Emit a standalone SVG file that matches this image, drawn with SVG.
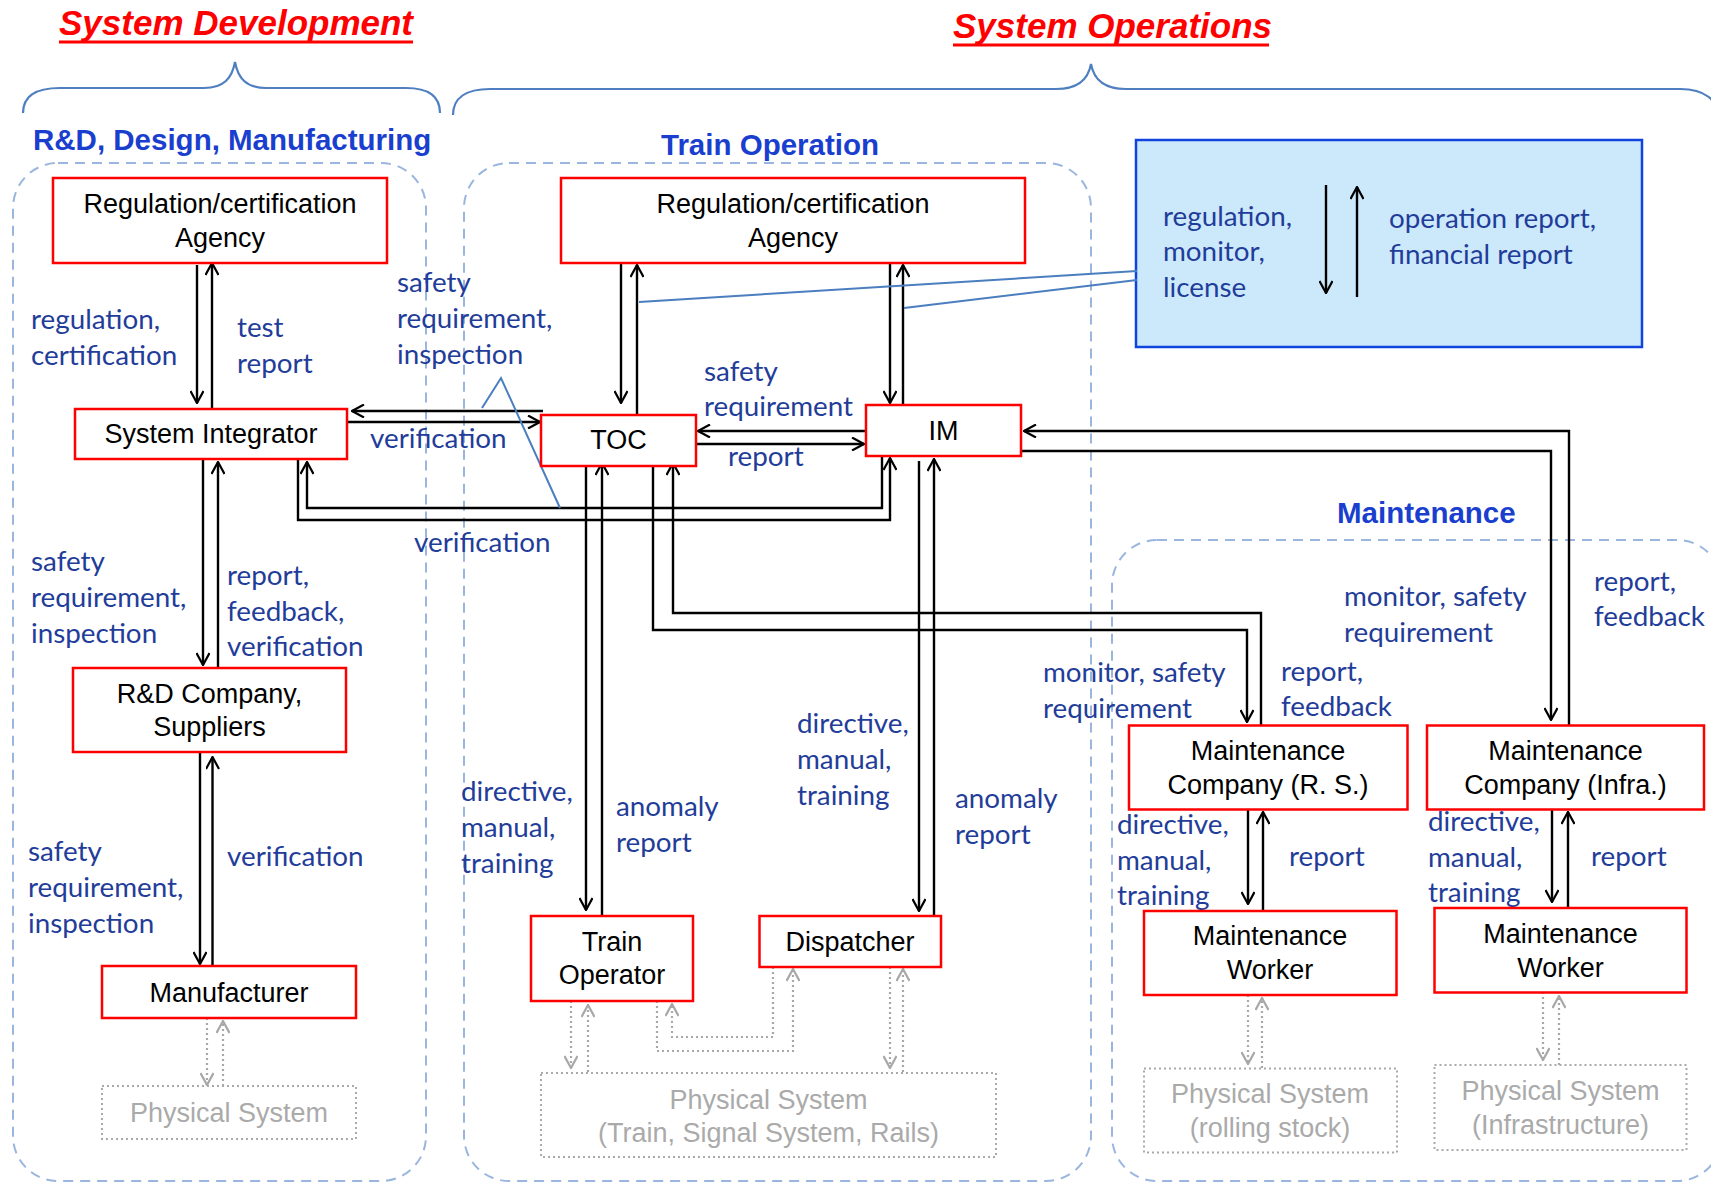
<svg xmlns="http://www.w3.org/2000/svg" width="1711" height="1182" viewBox="0 0 1711 1182">
<style>
.bg{fill:#ffffff}
.title{font-family:"Liberation Sans",Arial,sans-serif;font-weight:bold;font-style:italic;font-size:35px;fill:#ff0000}
.uline{stroke:#ff0000;stroke-width:3}
.sect{font-family:"Liberation Sans",Arial,sans-serif;font-weight:bold;font-size:29.5px;fill:#1a3fcf}
.brace{fill:none;stroke:#4f7fc0;stroke-width:2.2}
.cont{fill:none;stroke:#9ab6de;stroke-width:2;stroke-dasharray:10 7}
.node rect{fill:#ffffff;stroke:#ff0000;stroke-width:2.5}
.node text{font-family:"Liberation Sans",Arial,sans-serif;font-size:27px;fill:#000000;text-anchor:middle}
.phys rect{fill:#ffffff;stroke:#aaaaaa;stroke-width:2;stroke-dasharray:2 3}
.phys text{font-family:"Liberation Sans",Arial,sans-serif;font-size:27px;fill:#aaaaaa;text-anchor:middle}
.lbl{font-family:Lato,"Open Sans",sans-serif;font-size:27.8px;fill:#1f3d99}
.conn{fill:none;stroke:#000000;stroke-width:2.4}
.dot{fill:none;stroke:#a8a8a8;stroke-width:2.2;stroke-dasharray:2 3}
.ann{fill:none;stroke:#4a7ebf;stroke-width:2}
.bluebox{fill:#cce9fc;stroke:#1144dd;stroke-width:2.5}
</style>
<defs>
<marker id="arr" viewBox="0 0 14 14" refX="13" refY="7" markerWidth="14" markerHeight="14" markerUnits="userSpaceOnUse" orient="auto">
<path d="M1,0.5 L13,7 L1,13.5" fill="none" stroke="#000000" stroke-width="2.2"/>
</marker>
<marker id="garr" viewBox="0 0 14 14" refX="13" refY="7" markerWidth="14" markerHeight="14" markerUnits="userSpaceOnUse" orient="auto">
<path d="M1,0.5 L13,7 L1,13.5" fill="none" stroke="#a8a8a8" stroke-width="2.2"/>
</marker>
</defs>
<rect class="bg" x="0" y="0" width="1711" height="1182"/>

<g id="titles">
<text class="title" x="59" y="35">System Development</text>
<line class="uline" x1="59" y1="42" x2="413" y2="42"/>
<text class="title" x="953" y="38">System Operations</text>
<line class="uline" x1="953" y1="45" x2="1269" y2="45"/>
<path class="brace" d="M23,113 C23,96 36,88 60,88 L204,88 C224,88 232,78 235,62 C238,78 246,88 266,88 L406,88 C428,88 440,96 440,113"/>
<path class="brace" d="M453,115 C453,98 466,89 490,89 L1056,89 C1078,89 1088,80 1091,64 C1094,80 1104,89 1126,89 L1680,89 C1705,89 1718,100 1718,118"/>
<text class="sect" x="33" y="150">R&amp;D, Design, Manufacturing</text>
<text class="sect" x="661" y="155">Train Operation</text>
<text class="sect" x="1337" y="523">Maintenance</text>
</g>

<g id="containers">
<rect class="cont" x="13" y="163" width="413" height="1018" rx="45"/>
<rect class="cont" x="464" y="163" width="627" height="1018" rx="45"/>
<rect class="cont" x="1112" y="540" width="610" height="641" rx="45"/>
</g>

<g id="oversight">
<rect class="bluebox" x="1136" y="140" width="506" height="207"/>
<text class="lbl" x="1163" y="226">regulation,</text>
<text class="lbl" x="1163" y="261">monitor,</text>
<text class="lbl" x="1163" y="297">license</text>
<text class="lbl" x="1389" y="228">operation report,</text>
<text class="lbl" x="1389" y="264">financial report</text>
</g>

<g id="connectors">
<path class="conn" d="M197,265 V403" marker-end="url(#arr)"/>
<path class="conn" d="M212,408 V263" marker-end="url(#arr)"/>
<path class="conn" d="M543,411 H352" marker-end="url(#arr)"/>
<path class="conn" d="M347,422 H540" marker-end="url(#arr)"/>
<path class="conn" d="M203,460 V665" marker-end="url(#arr)"/>
<path class="conn" d="M218,668 V462" marker-end="url(#arr)"/>
<path class="conn" d="M200,753 V964" marker-end="url(#arr)"/>
<path class="conn" d="M212.5,967 V757" marker-end="url(#arr)"/>
<path class="dot" d="M207,1018 V1085" marker-end="url(#garr)"/>
<path class="dot" d="M223,1086 V1021" marker-end="url(#garr)"/>
<path class="conn" d="M298,459 V520 H890 V458" marker-end="url(#arr)"/>
<path class="conn" d="M882,456 V508 H307 V462" marker-end="url(#arr)"/>
<path class="conn" d="M621,263 V403" marker-end="url(#arr)"/>
<path class="conn" d="M637,414 V265" marker-end="url(#arr)"/>
<path class="conn" d="M890,264 V403" marker-end="url(#arr)"/>
<path class="conn" d="M903,405 V265" marker-end="url(#arr)"/>
<path class="conn" d="M866,431 H698" marker-end="url(#arr)"/>
<path class="conn" d="M696,444 H864" marker-end="url(#arr)"/>
<path class="conn" d="M586,463 V910" marker-end="url(#arr)"/>
<path class="conn" d="M602,916 V463" marker-end="url(#arr)"/>
<path class="conn" d="M919,461 V911" marker-end="url(#arr)"/>
<path class="conn" d="M934,916 V459" marker-end="url(#arr)"/>
<path class="conn" d="M653,463 V630 H1247 V722" marker-end="url(#arr)"/>
<path class="conn" d="M1261,725 V613 H673 V463" marker-end="url(#arr)"/>
<path class="conn" d="M1021,451 H1551 V720" marker-end="url(#arr)"/>
<path class="conn" d="M1569,725 V431 H1024" marker-end="url(#arr)"/>
<path class="conn" d="M1248,809 V904" marker-end="url(#arr)"/>
<path class="conn" d="M1263,911 V812" marker-end="url(#arr)"/>
<path class="conn" d="M1552,809 V902" marker-end="url(#arr)"/>
<path class="conn" d="M1568,908 V812" marker-end="url(#arr)"/>
<path class="dot" d="M1248,995 V1064" marker-end="url(#garr)"/>
<path class="dot" d="M1262,1068 V998" marker-end="url(#garr)"/>
<path class="dot" d="M1543,992 V1060" marker-end="url(#garr)"/>
<path class="dot" d="M1559,1065 V996" marker-end="url(#garr)"/>
<path class="dot" d="M571,1001 V1068" marker-end="url(#garr)"/>
<path class="dot" d="M588,1072 V1005" marker-end="url(#garr)"/>
<path class="dot" d="M657,1001 V1051 H793 V969" marker-end="url(#garr)"/>
<path class="dot" d="M773,967 V1037 H672 V1004" marker-end="url(#garr)"/>
<path class="dot" d="M890,967 V1068" marker-end="url(#garr)"/>
<path class="dot" d="M903,1072 V969" marker-end="url(#garr)"/>
<path class="conn" d="M1326,185 V293" marker-end="url(#arr)"/>
<path class="conn" d="M1357,297 V187" marker-end="url(#arr)"/>
<path class="ann" d="M482,408 L501,378 L560,508"/>
<path class="ann" d="M639,302 L1137,271"/>
<path class="ann" d="M904,308 L1137,280"/>
</g>

<g id="labels">
<text class="lbl" x="31" y="329">regulation,</text>
<text class="lbl" x="31" y="365">certification</text>
<text class="lbl" x="237" y="337">test</text>
<text class="lbl" x="237" y="373">report</text>
<text class="lbl" x="397" y="292">safety</text>
<text class="lbl" x="397" y="328">requirement,</text>
<text class="lbl" x="397" y="364">inspection</text>
<text class="lbl" x="370" y="448">verification</text>
<text class="lbl" x="31" y="571">safety</text>
<text class="lbl" x="31" y="607">requirement,</text>
<text class="lbl" x="31" y="643">inspection</text>
<text class="lbl" x="227" y="585">report,</text>
<text class="lbl" x="227" y="621">feedback,</text>
<text class="lbl" x="227" y="656">verification</text>
<text class="lbl" x="28" y="861">safety</text>
<text class="lbl" x="28" y="897">requirement,</text>
<text class="lbl" x="28" y="933">inspection</text>
<text class="lbl" x="227" y="866">verification</text>
<text class="lbl" x="414" y="552">verification</text>
<text class="lbl" x="704" y="381">safety</text>
<text class="lbl" x="704" y="416">requirement</text>
<text class="lbl" x="728" y="466">report</text>
<text class="lbl" x="461" y="801">directive,</text>
<text class="lbl" x="461" y="837">manual,</text>
<text class="lbl" x="461" y="873">training</text>
<text class="lbl" x="616" y="816">anomaly</text>
<text class="lbl" x="616" y="852">report</text>
<text class="lbl" x="797" y="733">directive,</text>
<text class="lbl" x="797" y="769">manual,</text>
<text class="lbl" x="797" y="805">training</text>
<text class="lbl" x="955" y="808">anomaly</text>
<text class="lbl" x="955" y="844">report</text>
<text class="lbl" x="1043" y="682">monitor, safety</text>
<text class="lbl" x="1043" y="718">requirement</text>
<text class="lbl" x="1281" y="681">report,</text>
<text class="lbl" x="1281" y="716">feedback</text>
<text class="lbl" x="1344" y="606">monitor, safety</text>
<text class="lbl" x="1344" y="642">requirement</text>
<text class="lbl" x="1594" y="591">report,</text>
<text class="lbl" x="1594" y="626">feedback</text>
<text class="lbl" x="1117" y="834">directive,</text>
<text class="lbl" x="1117" y="870">manual,</text>
<text class="lbl" x="1117" y="905">training</text>
<text class="lbl" x="1289" y="866">report</text>
<text class="lbl" x="1428" y="831">directive,</text>
<text class="lbl" x="1428" y="867">manual,</text>
<text class="lbl" x="1428" y="902">training</text>
<text class="lbl" x="1591" y="866">report</text>
</g>

<g id="node-agency-dev" class="node">
<rect x="53" y="178" width="334" height="85"/>
<text x="220" y="213">Regulation/certification</text>
<text x="220" y="247">Agency</text>
</g>
<g id="node-system-integrator" class="node">
<rect x="75" y="409" width="272" height="50"/>
<text x="211" y="443">System Integrator</text>
</g>
<g id="node-rd-company" class="node">
<rect x="73" y="668" width="273" height="84"/>
<text x="209.5" y="703">R&amp;D Company,</text>
<text x="209.5" y="736">Suppliers</text>
</g>
<g id="node-manufacturer" class="node">
<rect x="102" y="966" width="254" height="52"/>
<text x="229" y="1002">Manufacturer</text>
</g>
<g id="node-physical-dev" class="phys">
<rect x="102" y="1086" width="254" height="53"/>
<text x="229" y="1122">Physical System</text>
</g>
<g id="node-agency-ops" class="node">
<rect x="561" y="178" width="464" height="85"/>
<text x="793" y="213">Regulation/certification</text>
<text x="793" y="247">Agency</text>
</g>
<g id="node-toc" class="node">
<rect x="541" y="415" width="155" height="51"/>
<text x="618.5" y="449">TOC</text>
</g>
<g id="node-im" class="node">
<rect x="866" y="405" width="155" height="51"/>
<text x="943.5" y="440">IM</text>
</g>
<g id="node-train-operator" class="node">
<rect x="531" y="916" width="162" height="85"/>
<text x="612" y="951">Train</text>
<text x="612" y="984">Operator</text>
</g>
<g id="node-dispatcher" class="node">
<rect x="759.5" y="916" width="181.5" height="51"/>
<text x="850" y="951">Dispatcher</text>
</g>
<g id="node-physical-ops" class="phys">
<rect x="541" y="1073" width="455" height="84"/>
<text x="768.5" y="1109">Physical System</text>
<text x="768.5" y="1142">(Train, Signal System, Rails)</text>
</g>
<g id="node-mc-rs" class="node">
<rect x="1129" y="725.5" width="278.5" height="84"/>
<text x="1268" y="760">Maintenance</text>
<text x="1268" y="794">Company (R. S.)</text>
</g>
<g id="node-mc-infra" class="node">
<rect x="1427" y="725.5" width="277" height="84"/>
<text x="1565.5" y="760">Maintenance</text>
<text x="1565.5" y="794">Company (Infra.)</text>
</g>
<g id="node-worker-rs" class="node">
<rect x="1144" y="911" width="252.5" height="84"/>
<text x="1270" y="945">Maintenance</text>
<text x="1270" y="979">Worker</text>
</g>
<g id="node-worker-infra" class="node">
<rect x="1434.5" y="908" width="252" height="84.5"/>
<text x="1560.5" y="943">Maintenance</text>
<text x="1560.5" y="977">Worker</text>
</g>
<g id="node-physical-rs" class="phys">
<rect x="1144" y="1068.5" width="253" height="84"/>
<text x="1270" y="1103">Physical System</text>
<text x="1270" y="1137">(rolling stock)</text>
</g>
<g id="node-physical-infra" class="phys">
<rect x="1434.5" y="1065" width="252" height="85"/>
<text x="1560.5" y="1100">Physical System</text>
<text x="1560.5" y="1134">(Infrastructure)</text>
</g>
</svg>
